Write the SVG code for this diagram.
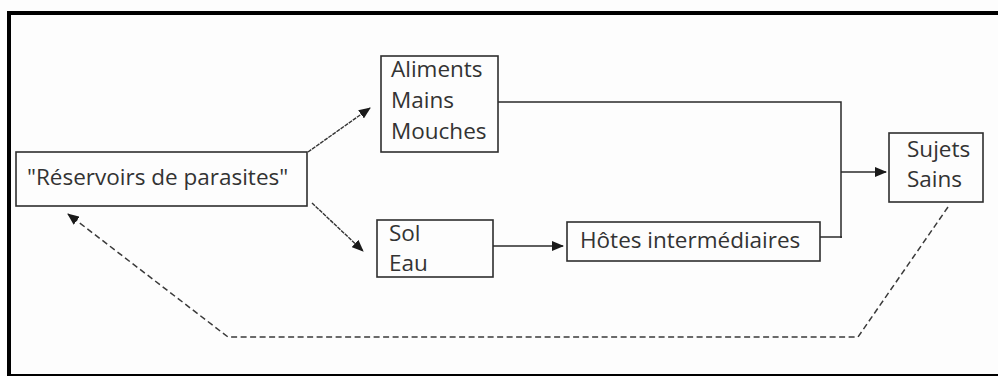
<svg xmlns="http://www.w3.org/2000/svg" width="998" height="376" viewBox="0 0 998 376">
<defs>
<marker id="ah" markerUnits="userSpaceOnUse" markerWidth="12" markerHeight="10" refX="11" refY="5" orient="auto">
<path d="M0,0 L12,5 L0,10 Z" fill="#1a1a1a"/>
</marker>
<style>
.box{fill:#fdfdfd;stroke:#2e2e2e;stroke-width:1.6}
.t{font-family:"Open Sans","Liberation Sans",sans-serif;font-size:22.5px;fill:#333}
.ln{fill:none;stroke:#2a2a2a;stroke-width:1.5}
.fine{fill:none;stroke:#333;stroke-width:1.4;stroke-dasharray:4 1}
.dash{fill:none;stroke:#3a3a3a;stroke-width:1.5;stroke-dasharray:6 3.5}
</style>
</defs>
<rect x="0" y="0" width="998" height="376" fill="#fdfdfd"/>
<g id="frame">
<line x1="7" y1="13" x2="998" y2="13" stroke="#000" stroke-width="4"/>
<line x1="9" y1="11" x2="9" y2="376" stroke="#000" stroke-width="4"/>
<line x1="7" y1="375" x2="998" y2="375" stroke="#000" stroke-width="2"/>
</g>
<g id="connectors">
<polyline class="ln" points="498,102 841,102 841,238"/>
<line class="ln" x1="820" y1="237" x2="842" y2="237"/>
<line class="ln" x1="841" y1="172" x2="886" y2="172" marker-end="url(#ah)"/>
<line class="ln" x1="493" y1="246" x2="563" y2="246" marker-end="url(#ah)"/>
<line class="fine" x1="308" y1="152" x2="370" y2="108" marker-end="url(#ah)"/>
<line class="fine" x1="312" y1="203" x2="363" y2="251" marker-end="url(#ah)"/>
<polyline class="dash" points="948,207 858,337 228,337 68,214" marker-end="url(#ah)"/>
</g>
<g id="reservoirs">
<rect class="box" x="16" y="152" width="291" height="54"/>
<text class="t" x="27" y="185">"Réservoirs de parasites"</text>
</g>
<g id="aliments">
<rect class="box" x="381" y="56" width="117" height="96"/>
<text class="t" x="391" y="77">Aliments</text>
<text class="t" x="391" y="108">Mains</text>
<text class="t" x="391" y="139">Mouches</text>
</g>
<g id="sol">
<rect class="box" x="377" y="220" width="116" height="57"/>
<text class="t" x="389" y="241">Sol</text>
<text class="t" x="389" y="271">Eau</text>
</g>
<g id="hotes">
<rect class="box" x="567" y="222" width="253" height="39"/>
<text class="t" x="580" y="248">Hôtes intermédiaires</text>
</g>
<g id="sujets">
<rect class="box" x="889" y="133" width="94" height="69"/>
<text class="t" x="907" y="157">Sujets</text>
<text class="t" x="907" y="187">Sains</text>
</g>
</svg>
